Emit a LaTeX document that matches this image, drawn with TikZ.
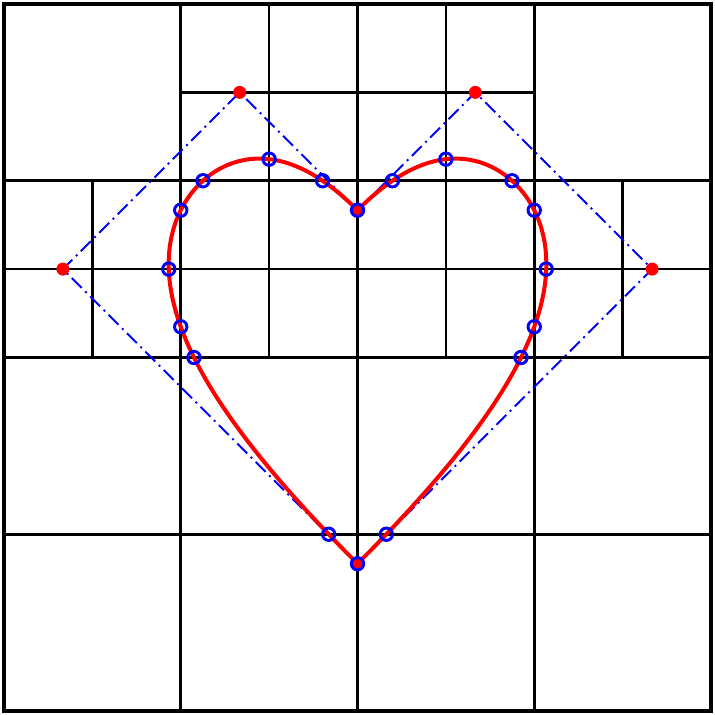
\documentclass[tikz,border=0pt]{standalone}
\usepackage{tikz}

\begin{document}
\begin{tikzpicture}[x=0.75pt,y=0.75pt,yscale=-1,xscale=1,
  frameline/.style={line width=3.2pt},
  cellline/.style={line width=2.2pt},
  subline/.style={line width=2pt},
  ctrlpoly/.style={color=blue, line width=1.4pt, dash pattern=on 10.5pt off 3.75pt on 1.5pt off 3.75pt},
  heartline/.style={color=red, line width=3pt, line join=round},
  ctrldot/.style={fill=red},
  hitring/.style={color=blue, line width=2.2pt}]
\useasboundingbox (0,0) rectangle (715,715);

%Straight Lines
\draw [cellline] (180.75,4) -- (180.75,711) ;
\draw [cellline] (357.5,4) -- (357.5,711) ;
\draw [cellline] (534.25,4) -- (534.25,711) ;
\draw [cellline] (4,180.74) -- (711,180.74) ;
\draw [cellline] (4,357.49) -- (711,357.49) ;
\draw [cellline] (4,534.24) -- (711,534.24) ;
%Straight Lines
\draw [subline] (269.12,4) -- (269.12,357.49) ;
\draw [subline] (445.88,4) -- (445.88,357.49) ;
\draw [subline] (92.37,180.74) -- (92.37,357.49) ;
\draw [subline] (622.63,180.74) -- (622.63,357.49) ;
\draw [subline] (180.75,92.37) -- (534.25,92.37) ;
\draw [subline] (4,269.12) -- (711,269.12) ;
%Shape: Square
\draw [frameline] (4,4) rectangle (711,711) ;

% Control points
\coordinate (p0) at (357.5,563.7) ;
\coordinate (p1) at (62.92,269.12) ;
\coordinate (p2) at (239.67,92.37) ;
\coordinate (p3) at (357.5,210.2) ;
\coordinate (p4) at (475.33,92.37) ;
\coordinate (p5) at (652.08,269.12) ;

%Straight Lines
\draw [ctrlpoly] (p0) -- (p1) -- (p2) -- (p3) -- (p4) -- (p5) -- cycle ;

%Curve Lines
\draw [heartline] plot [domain=0:1, samples=121, variable=\t] ({357.5+58.917*(-18*\t^3+48*\t^2-30*\t)/(1+3*\t-3*\t^2)}, {563.7-58.917*(30*\t-12*\t^2-12*\t^3)/(1+3*\t-3*\t^2)})
  -- plot [domain=1:0, samples=121, variable=\t] ({357.5-58.917*(-18*\t^3+48*\t^2-30*\t)/(1+3*\t-3*\t^2)}, {563.7-58.917*(30*\t-12*\t^2-12*\t^3)/(1+3*\t-3*\t^2)}) -- cycle ;

%Shape: Circle
\fill [ctrldot] (p0) circle [x radius= 6.5, y radius= 6.5] ;
\fill [ctrldot] (p1) circle [x radius= 6.5, y radius= 6.5] ;
\fill [ctrldot] (p2) circle [x radius= 6.5, y radius= 6.5] ;
\fill [ctrldot] (p3) circle [x radius= 6.5, y radius= 6.5] ;
\fill [ctrldot] (p4) circle [x radius= 6.5, y radius= 6.5] ;
\fill [ctrldot] (p5) circle [x radius= 6.5, y radius= 6.5] ;

%Shape: Circle
\draw [hitring] (p0) circle [x radius= 6.2, y radius= 6.2] ;
\draw [hitring] (p3) circle [x radius= 6.2, y radius= 6.2] ;
\draw [hitring] (328.66,534.24) circle [x radius= 6.2, y radius= 6.2] ;
\draw [hitring] (193.97,357.49) circle [x radius= 6.2, y radius= 6.2] ;
\draw [hitring] (180.75,326.78) circle [x radius= 6.2, y radius= 6.2] ;
\draw [hitring] (168.77,269.12) circle [x radius= 6.2, y radius= 6.2] ;
\draw [hitring] (180.75,210.2) circle [x radius= 6.2, y radius= 6.2] ;
\draw [hitring] (202.99,180.74) circle [x radius= 6.2, y radius= 6.2] ;
\draw [hitring] (269.12,159.16) circle [x radius= 6.2, y radius= 6.2] ;
\draw [hitring] (322.59,180.74) circle [x radius= 6.2, y radius= 6.2] ;
\draw [hitring] (386.34,534.24) circle [x radius= 6.2, y radius= 6.2] ;
\draw [hitring] (521.03,357.49) circle [x radius= 6.2, y radius= 6.2] ;
\draw [hitring] (534.25,326.78) circle [x radius= 6.2, y radius= 6.2] ;
\draw [hitring] (546.23,269.12) circle [x radius= 6.2, y radius= 6.2] ;
\draw [hitring] (534.25,210.2) circle [x radius= 6.2, y radius= 6.2] ;
\draw [hitring] (512.01,180.74) circle [x radius= 6.2, y radius= 6.2] ;
\draw [hitring] (445.88,159.16) circle [x radius= 6.2, y radius= 6.2] ;
\draw [hitring] (392.41,180.74) circle [x radius= 6.2, y radius= 6.2] ;

\end{tikzpicture}
\end{document}
